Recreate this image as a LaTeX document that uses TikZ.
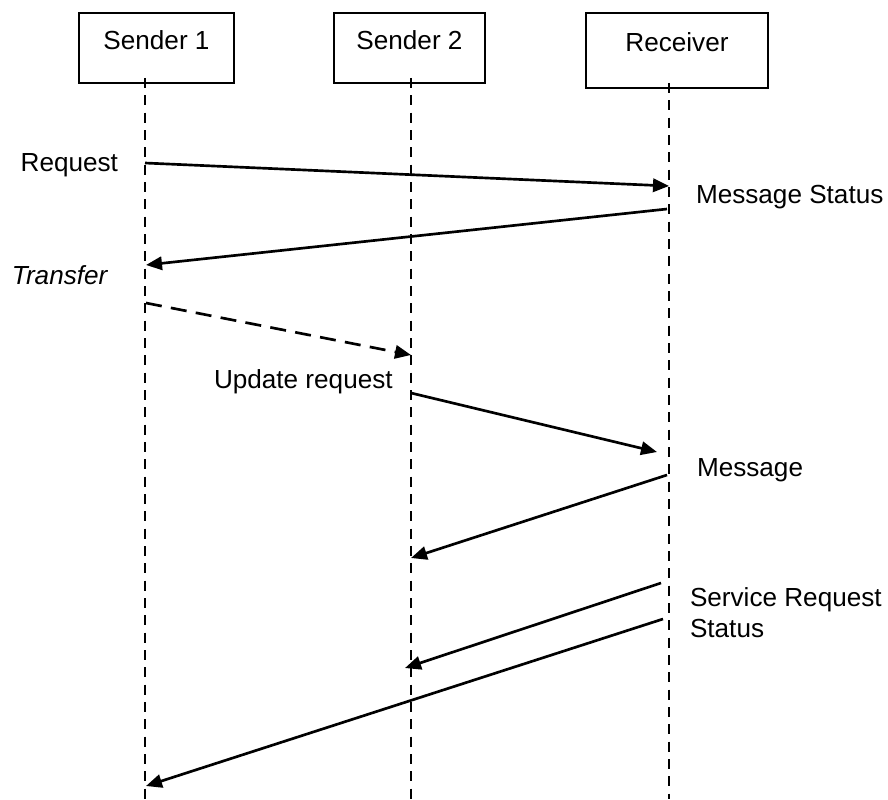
\documentclass[tikz,border=0pt]{standalone}
\usepackage{fontspec}
\setmainfont{Liberation Sans}
\usetikzlibrary{arrows.meta}

\begin{document}
\begin{tikzpicture}[x=0.75pt, y=-0.75pt,
    every node/.style={font=\fontsize{19.6}{23.25}\selectfont, inner sep=0pt, outer sep=0pt},
    party/.style={draw, line width=1.5pt, minimum height=52.5pt, text height=14pt, text depth=12pt},
    lane/.style={line width=2.1pt, dash pattern=on 7.5pt off 5.5pt},
    msg/.style={line width=2pt, -{Triangle[length=12pt, width=10pt]}},
    lbl/.style={anchor=base west}]
        \useasboundingbox (0,0) rectangle (888,799);

        \node[party, minimum width=116.25pt] (S1) at (156.5,48) {Sender 1};
        \node[party, minimum width=113.25pt] (S2) at (409.5,48) {Sender 2};
        \node[party, minimum width=136.5pt, minimum height=56.25pt] (R) at (677,50.5) {Receiver};

        % lifelines
        \coordinate (s1top) at (145,78);
        \coordinate (s1bot) at (145,799);
        \coordinate (s2top) at (411,78);
        \coordinate (s2bot) at (411,799);
        \coordinate (rtop) at (669,83);
        \coordinate (rbot) at (669,799);
        \draw[lane] (s1top) -- (s1bot);
        \draw[lane] (s2top) -- (s2bot);
        \draw[lane] (rtop) -- (rbot);

        % message end points
        \coordinate (m1a) at (145,163);
        \coordinate (m1b) at (669,186);
        \coordinate (m2a) at (667,209);
        \coordinate (m2b) at (146,265);
        \coordinate (m3a) at (146,303);
        \coordinate (m3b) at (411,355);
        \coordinate (m4a) at (411,393);
        \coordinate (m4b) at (657,452);
        \coordinate (m5a) at (667,475);
        \coordinate (m5b) at (411,558);
        \coordinate (m6a) at (661,583);
        \coordinate (m6b) at (405,668);
        \coordinate (m7a) at (663,619);
        \coordinate (m7b) at (146,786);

        \draw(m1a)[msg] -- (m1b);
        \draw(m2a)[msg] -- (m2b);
        \draw(m3a)[msg, dash pattern=on 12pt off 7pt] -- (m3b);
        \draw(m4a)[msg] -- (m4b);
        \draw(m5a)[msg] -- (m5b);
        \draw(m6a)[msg] -- (m6b);
        \draw(m7a)[msg] -- (m7b);

        % labels
        \node[anchor=base east] (request) at (118,171) {Request};
        \node[lbl] (msgstatus) at (696,203) {Message Status};
        \node[lbl] (transfer) at (12,284) {\itshape Transfer};
        \node[lbl] (update) at (214,388) {Update request};
        \node[lbl] (message) at (697,476) {Message};
        \node[lbl] (servreq) at (690,606) {Service Request};
        \node[lbl] (status) at (690,637) {Status};
\end{tikzpicture}
\end{document}
